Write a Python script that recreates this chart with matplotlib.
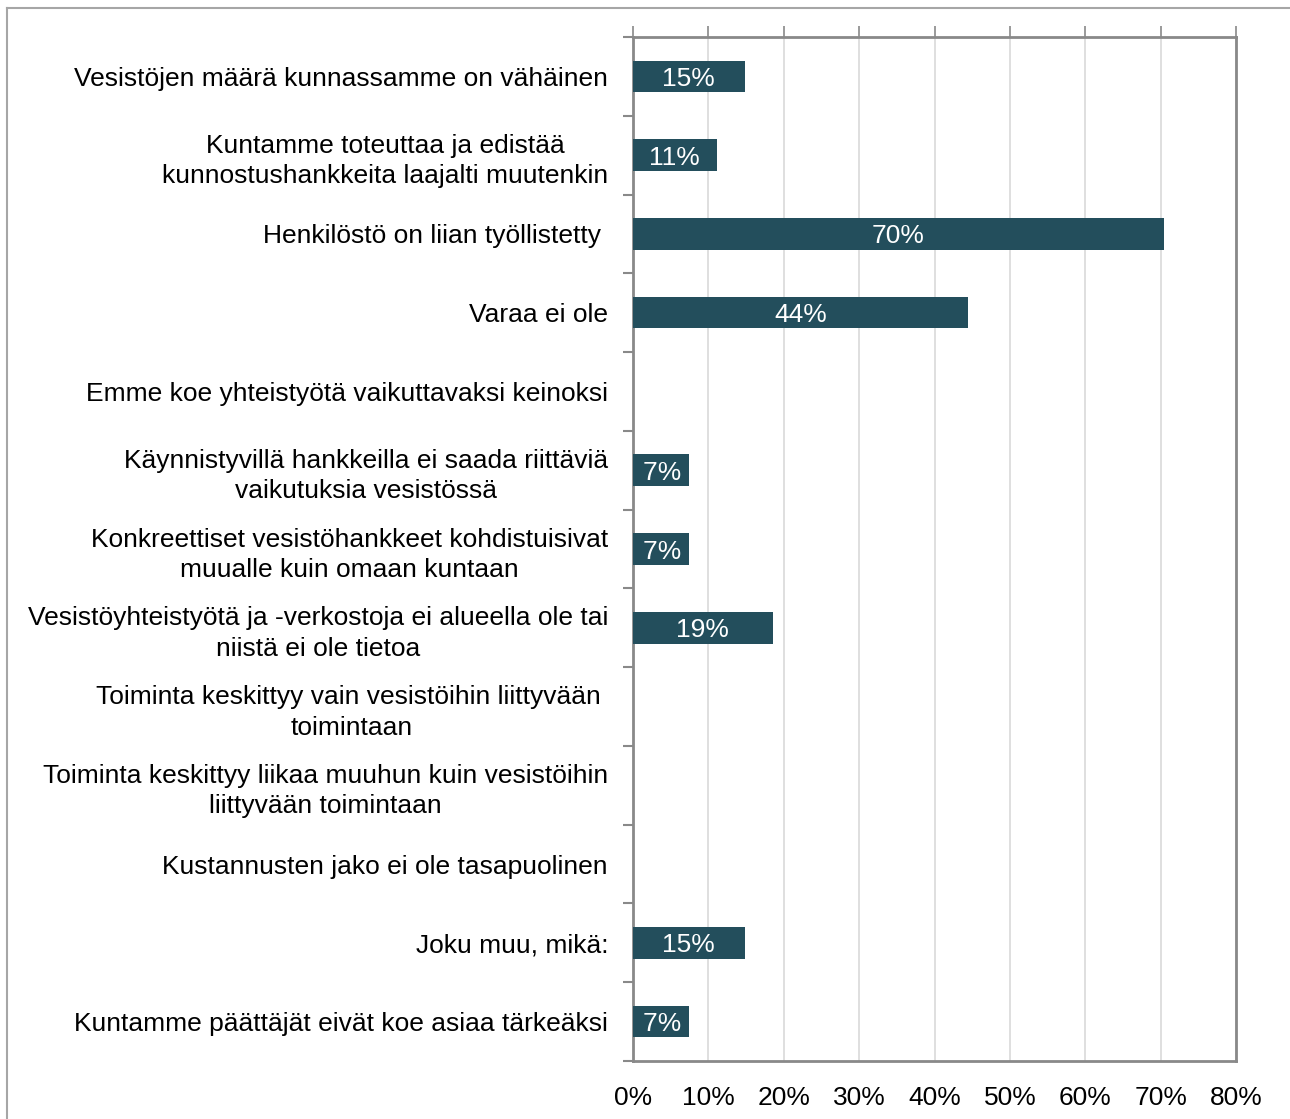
import matplotlib
matplotlib.use('Agg')
import matplotlib.pyplot as plt
from matplotlib.lines import Line2D
import numpy as np

plt.rcParams['font.family'] = ['Liberation Sans', 'DejaVu Sans']

categories = [
    "Vesistöjen määrä kunnassamme on vähäinen",
    "Kuntamme toteuttaa ja edistää\nkunnostushankkeita laajalti muutenkin",
    "Henkilöstö on liian työllistetty ",
    "Varaa ei ole",
    "Emme koe yhteistyötä vaikuttavaksi keinoksi",
    "Käynnistyvillä hankkeilla ei saada riittäviä\nvaikutuksia vesistössä",
    "Konkreettiset vesistöhankkeet kohdistuisivat\nmuualle kuin omaan kuntaan",
    "Vesistöyhteistyötä ja -verkostoja ei alueella ole tai\nniistä ei ole tietoa",
    "Toiminta keskittyy vain vesistöihin liittyvään \ntoimintaan",
    "Toiminta keskittyy liikaa muuhun kuin vesistöihin\nliittyvään toimintaan",
    "Kustannusten jako ei ole tasapuolinen",
    "Joku muu, mikä:",
    "Kuntamme päättäjät eivät koe asiaa tärkeäksi",
]
# shares of respondents (n = 27)
values = [0.148, 0.111, 0.704, 0.444, 0.0, 0.074, 0.074, 0.1852, 0.0, 0.0, 0.0, 0.148, 0.074]
xticks = [0, 0.1, 0.2, 0.3, 0.4, 0.5, 0.6, 0.7, 0.8]

W, H = 1290, 1119
fig = plt.figure(figsize=(W / 100, H / 100), dpi=100)
ax = fig.add_axes([633 / W, 1 - 1061 / H, (1236 - 633) / W, (1061 - 37) / H])

bar_color = '#234E5C'
spine_color = '#898989'
fs = 19

y = np.arange(len(categories))
ax.barh(y, values, height=0.4, color=bar_color, zorder=3)
for yi, v in zip(y, values):
    if v <= 0:
        continue
    if v < 0.1:
        # short bars: label sits against the bar end
        ax.text(v, yi, f"{v:.0%} ", ha='right', va='center_baseline',
                color='white', fontsize=fs, zorder=4)
    else:
        ax.text(v / 2, yi, f"{v:.0%}", ha='center', va='center_baseline',
                color='white', fontsize=fs, zorder=4)

ax.set_xlim(0, 0.8)
ax.set_ylim(len(categories) - 0.5, -0.5)
ax.set_xticks(xticks)
ax.set_xticklabels([f"{t:.0%}" for t in xticks])
ax.grid(axis='x', color='#D9D9D9', linewidth=1.2, zorder=0)
ax.set_axisbelow(True)

ax.set_yticks(y)
ax.set_yticklabels(categories, multialignment='center', linespacing=1.35)
ax.set_yticks(np.arange(len(categories) + 1) - 0.5, minor=True)
ax.tick_params(axis='y', which='major', length=0, pad=18, labelsize=fs)
ax.tick_params(axis='y', which='minor', length=7, width=1.5, color=spine_color, direction='out')
ax.tick_params(axis='x', top=True, bottom=False, labeltop=False, labelbottom=True,
               length=8, width=1.2, color=spine_color, pad=10, labelsize=fs)

for s in ax.spines.values():
    s.set_color(spine_color)
    s.set_linewidth(2)

# outer frame (top and left edges visible)
fig.add_artist(Line2D([7 / W, 1], [1 - 8 / H, 1 - 8 / H], color='#A6A6A6', linewidth=1.5))
fig.add_artist(Line2D([7 / W, 7 / W], [0, 1 - 8 / H], color='#A6A6A6', linewidth=1.5))

fig.savefig('out.png', dpi=100)
